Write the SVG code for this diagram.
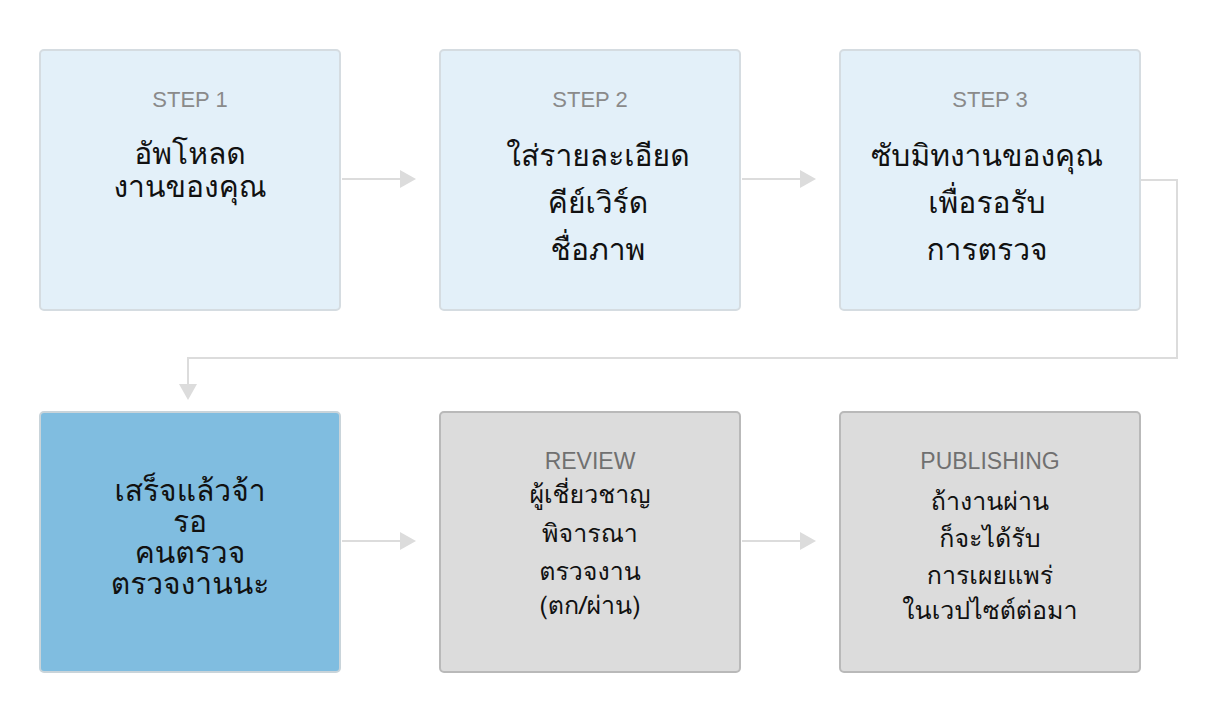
<svg xmlns="http://www.w3.org/2000/svg" width="1216" height="720" viewBox="0 0 1216 720">
<style>
.b{fill:#e3f0f9;stroke:#d5dce1;stroke-width:2}
.h{fill:#80bde0;stroke:#c9d4da;stroke-width:2}
.g{fill:#dcdcdc;stroke:#b9b9b9;stroke-width:2}
.s{font-family:"Liberation Sans",sans-serif;font-size:22px;fill:#8a8a8a;text-anchor:middle}
.s2{font-family:"Liberation Sans",sans-serif;font-size:23px;fill:#707070;text-anchor:middle}
.t{font-family:"Loma","Garuda","Noto Serif Thai","Noto Sans Thai",sans-serif;font-size:30px;fill:#111;text-anchor:middle}
.u{font-family:"Loma","Garuda","Noto Serif Thai","Noto Sans Thai",sans-serif;font-size:25px;fill:#111;text-anchor:middle}
.c{fill:none;stroke:#dcdcdc;stroke-width:2}
</style>
<g id="connectors">
<path class="c" d="M342,179H400"/><path d="M400,170L416,179L400,188Z" fill="#dcdcdc"/>
<path class="c" d="M742,179H800"/><path d="M800,170L816,179L800,188Z" fill="#dcdcdc"/>
<path class="c" d="M1141,180H1177V358H188V384"/><path d="M179,384L188,400L197,384Z" fill="#dcdcdc"/>
<path class="c" d="M342,541H400"/><path d="M400,532L416,541L400,550Z" fill="#dcdcdc"/>
<path class="c" d="M742,541H800"/><path d="M800,532L816,541L800,550Z" fill="#dcdcdc"/>
</g>
<g id="n1"><rect class="b" x="40" y="50" width="300" height="260" rx="4"/><text class="s" x="190" y="107">STEP 1</text><text class="t" x="190" y="164">อัพโหลด</text><text class="t" x="190" y="197">งานของคุณ</text></g>
<g id="n2"><rect class="b" x="440" y="50" width="300" height="260" rx="4"/><text class="s" x="590" y="107">STEP 2</text><text class="t" x="598" y="166">ใส่รายละเอียด</text><text class="t" x="598" y="213">คีย์เวิร์ด</text><text class="t" x="598" y="260">ชื่อภาพ</text></g>
<g id="n3"><rect class="b" x="840" y="50" width="300" height="260" rx="4"/><text class="s" x="990" y="107">STEP 3</text><text class="t" x="987" y="166">ซับมิทงานของคุณ</text><text class="t" x="987" y="213">เพื่อรอรับ</text><text class="t" x="987" y="260">การตรวจ</text></g>
<g id="n4"><rect class="h" x="40" y="412" width="300" height="260" rx="4"/><text class="t" x="190" y="501">เสร็จแล้วจ้า</text><text class="t" x="190" y="532">รอ</text><text class="t" x="190" y="563">คนตรวจ</text><text class="t" x="190" y="594">ตรวจงานนะ</text></g>
<g id="n5"><rect class="g" x="440" y="412" width="300" height="260" rx="4"/><text class="s2" x="590" y="469">REVIEW</text><text class="u" x="590" y="503">ผู้เชี่ยวชาญ</text><text class="u" x="590" y="542">พิจารณา</text><text class="u" x="590" y="580">ตรวจงาน</text><text class="u" x="590" y="614">(ตก/ผ่าน)</text></g>
<g id="n6"><rect class="g" x="840" y="412" width="300" height="260" rx="4"/><text class="s2" x="990" y="469">PUBLISHING</text><text class="u" x="990" y="510">ถ้างานผ่าน</text><text class="u" x="990" y="547">ก็จะได้รับ</text><text class="u" x="990" y="584">การเผยแพร่</text><text class="u" x="990" y="619">ในเวปไซต์ต่อมา</text></g>
</svg>
